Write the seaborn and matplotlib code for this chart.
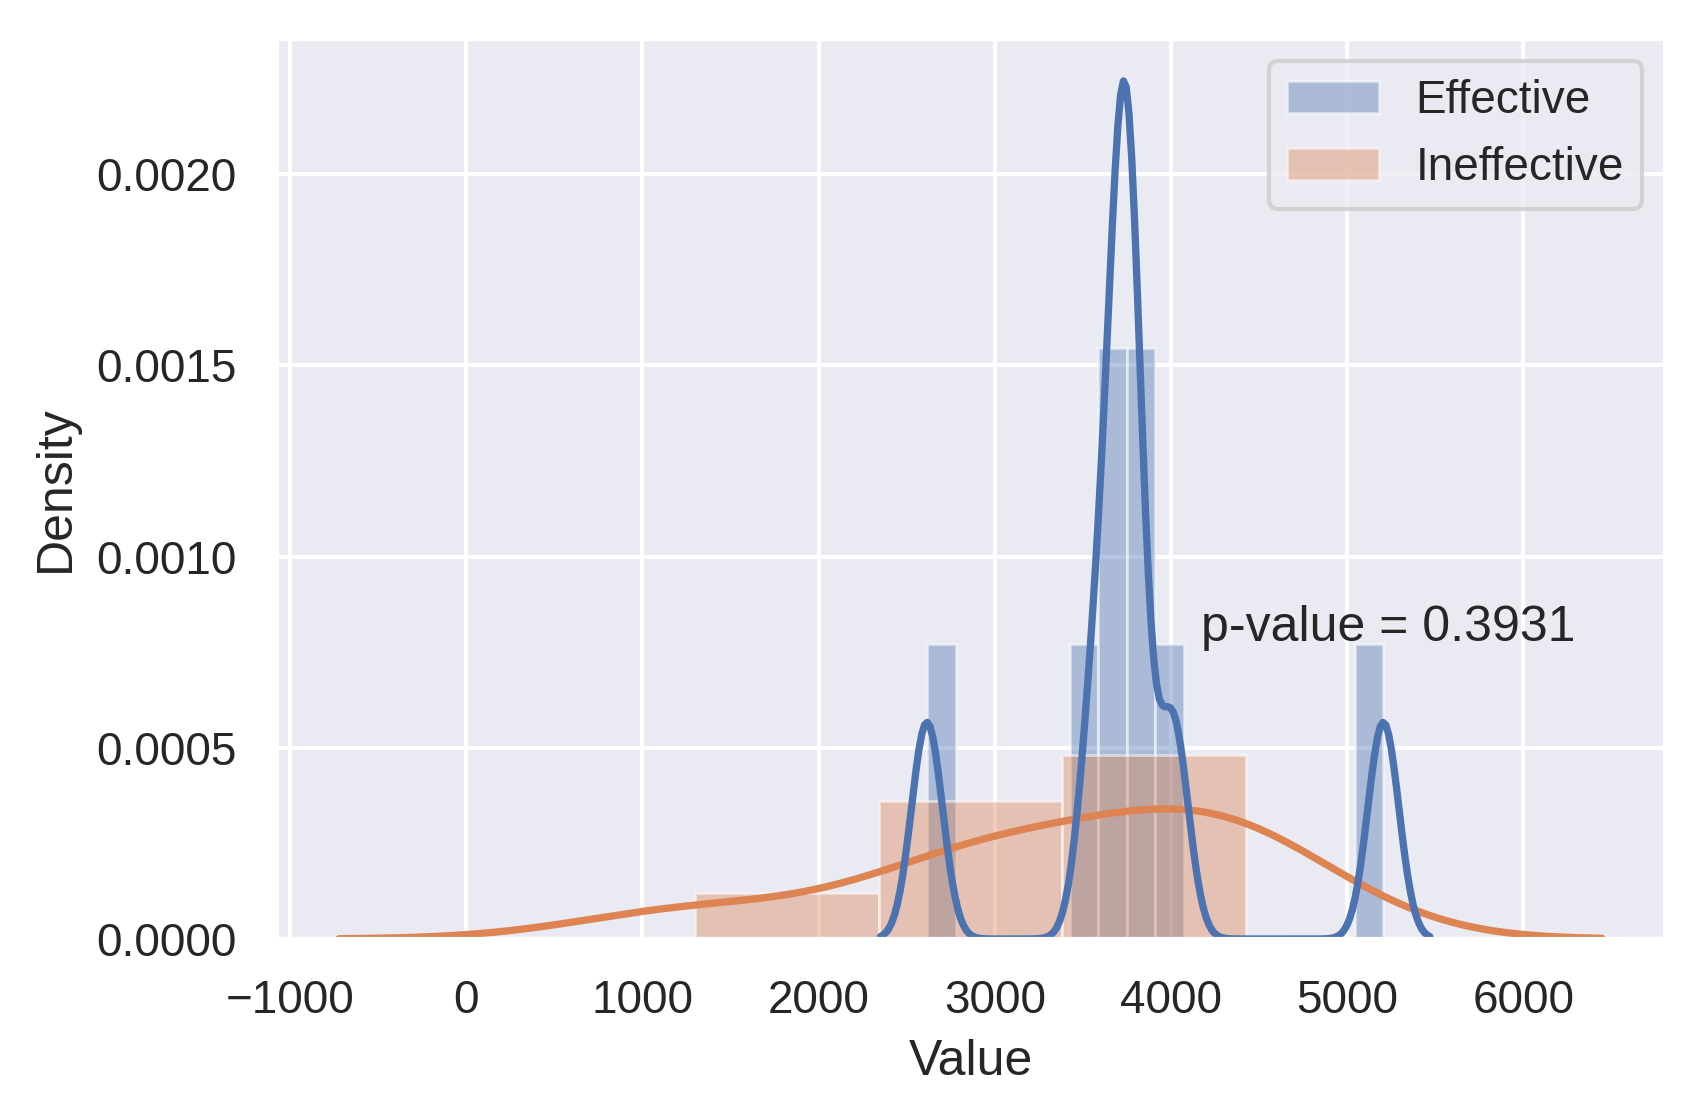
import numpy as np
import matplotlib
matplotlib.use("Agg")
import matplotlib.pyplot as plt
import seaborn as sns

# ---- data ----
series_labels = ["Effective", "Ineffective"]
effective = [2615, 3565, 3700, 3730, 3755, 3775, 4010, 5205]
ineffective = [1301, 2650, 2950, 3250, 3950, 4250, 4350, 4423]
p_value_text = "p-value = 0.3931"
x_label = "Value"
y_label = "Density"

# ---- style / layout parameters ----
BINS = {"Effective": 16, "Ineffective": 3}
BANDWIDTH = {"Effective": 88.0, "Ineffective": 674.0}
TEXT_POS = (4170, 0.00078)
LINE_WIDTH = 1.75

sns.set_theme(style="darkgrid", context="notebook")
plt.rcParams["font.family"] = ["Liberation Sans", "DejaVu Sans"]

W, H, DPI = 1704, 1115, 300
fig = plt.figure(figsize=(W / DPI, H / DPI), dpi=DPI)
ax = fig.add_axes([276 / W, 176 / H, (1665 - 276) / W, (1077 - 176) / H])

palette = sns.color_palette("deep")
data = {"Effective": effective, "Ineffective": ineffective}

for i, name in enumerate(series_labels):
    sns.histplot(x=data[name], bins=BINS[name], stat="density",
                 color=palette[i], alpha=0.4,
                 edgecolor=(1, 1, 1, 0.5), linewidth=0.7, ax=ax)

# KDE curves (orange drawn first so the blue curve sits on top)
for i, name in reversed(list(enumerate(series_labels))):
    vals = np.asarray(data[name], dtype=float)
    sns.kdeplot(x=vals, bw_method=BANDWIDTH[name] / vals.std(ddof=1),
                color=palette[i], linewidth=LINE_WIDTH, ax=ax)

ax.text(TEXT_POS[0], TEXT_POS[1], p_value_text, fontsize=12, color="0.15")
ax.set_xlabel(x_label)
ax.set_ylabel(y_label)
ax.legend(handles=list(ax.containers[:2]), labels=series_labels, loc="upper right")

fig.savefig("out.png", dpi=DPI)
